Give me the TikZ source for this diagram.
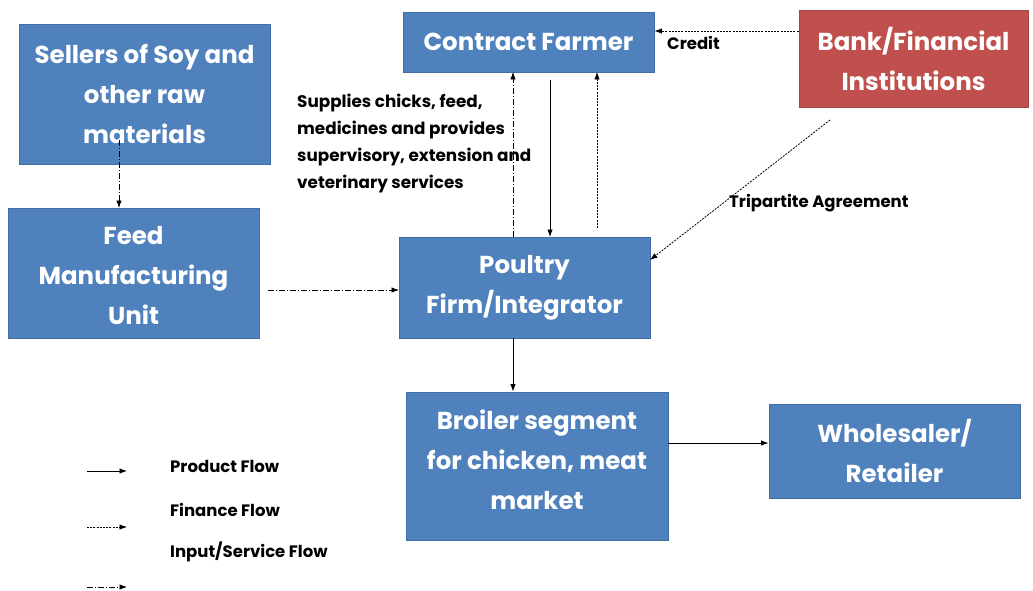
\documentclass[tikz,border=0pt]{standalone}
\usepackage{fontspec}
\setmainfont{Poppins}
\usetikzlibrary{arrows.meta}
\definecolor{boxblue}{RGB}{79,129,189}
\definecolor{boxred}{RGB}{192,80,77}
\begin{document}
\begin{tikzpicture}[x=1pt,y=-1pt,
  box/.style={draw=boxblue!85!black, line width=0.8pt, fill=boxblue, text=white, font=\fontsize{24.5}{40}\selectfont\bfseries, align=center, inner sep=0pt},
  redbox/.style={box, fill=boxred, draw=boxred!85!black},
  lbl/.style={font=\fontsize{16.5}{20}\selectfont\bfseries, inner sep=0pt},
  tip/.style={-{Latex[length=7.5pt,width=5.5pt]}},
  prod/.style={tip, line width=0.9pt},
  fin/.style={tip, line width=0.8pt, dash pattern=on 2pt off 1.2pt},
  inp/.style={tip, line width=0.8pt, dash pattern=on 6pt off 2pt on 1pt off 2pt}]
\useasboundingbox (0,0) rectangle (1033,591);
\fill[white] (0,0) rectangle (1033,591);
% boxes
\node[box, minimum width=251pt, minimum height=140pt] (sell) at (144.5,94) {Sellers of Soy and\\other raw\\materials};
\node[box, minimum width=251pt, minimum height=130pt] (feed) at (133.5,273) {\raisebox{-2.5pt}[\height][\depth]{\parbox{251pt}{\centering Feed\\Manufacturing\\Unit}}};
\node[box, minimum width=251pt, minimum height=60pt] (farm) at (528.5,42) {Contract Farmer};
\node[redbox, minimum width=229pt, minimum height=97pt] (bank) at (913.5,58.5) {Bank/Financial\\Institutions};
\node[box, minimum width=251pt, minimum height=101pt] (poul) at (524.5,287.5) {Poultry\\Firm/Integrator};
\node[box, minimum width=262pt, minimum height=148pt] (broil) at (537,466) {\raisebox{6pt}[\height][\depth]{\parbox{262pt}{\centering Broiler segment\\for chicken, meat\\market}}};
\node[box, minimum width=251pt, minimum height=94pt] (whole) at (894.5,451) {Wholesaler/\\Retailer};
% coordinates
\coordinate (s1) at (119,140);
\coordinate (s2) at (119,208);
\coordinate (a1) at (513,237);
\coordinate (a2) at (513,72);
\coordinate (b1) at (550,80);
\coordinate (b2) at (550,237);
\coordinate (c1) at (597,228);
\coordinate (c2) at (597,72);
\coordinate (t1) at (830,120);
\coordinate (t2) at (650,260);
\coordinate (f1) at (268,290);
\coordinate (f2) at (399,290);
% connectors
\draw[inp] (s1) -- (s2);
\draw[inp] (a1) -- (a2);
\draw[prod] (b1) -- (b2);
\draw[fin] (c1) -- (c2);
\draw[fin] (bank.west |- 0,31) -- (farm.east |- 0,31);
\draw[fin] (t1) -- (t2);
\draw[inp] (f1) -- (f2);
\draw[prod] (poul.south -| a1) -- (broil.north -| a1);
\draw[prod] (broil.east |- 0,443) -- (whole.west |- 0,443);
% labels
\node[lbl, anchor=north west] (credit) at (667,36) {Credit};
\node[lbl, anchor=west] (trip) at (729,203) {Tripartite Agreement};
\node[lbl, anchor=north west, align=left, font=\fontsize{16.8}{27}\selectfont\bfseries] (sup) at (297,94) {Supplies chicks, feed,\\medicines and provides\\supervisory, extension and\\veterinary services};
% legend
\coordinate (l1a) at (87,471); \coordinate (l1b) at (127,471);
\coordinate (l2a) at (87,527); \coordinate (l2b) at (127,527);
\coordinate (l3a) at (87,587); \coordinate (l3b) at (127,587);
\draw[prod] (l1a) -- (l1b);
\draw[fin] (l2a) -- (l2b);
\draw[inp] (l3a) -- (l3b);
\node[lbl, anchor=west] (lg1) at (170,466) {Product Flow};
\node[lbl, anchor=west] (lg2) at (170,510) {Finance Flow};
\node[lbl, anchor=west] (lg3) at (170,552) {Input/Service Flow};
\end{tikzpicture}
\end{document}
